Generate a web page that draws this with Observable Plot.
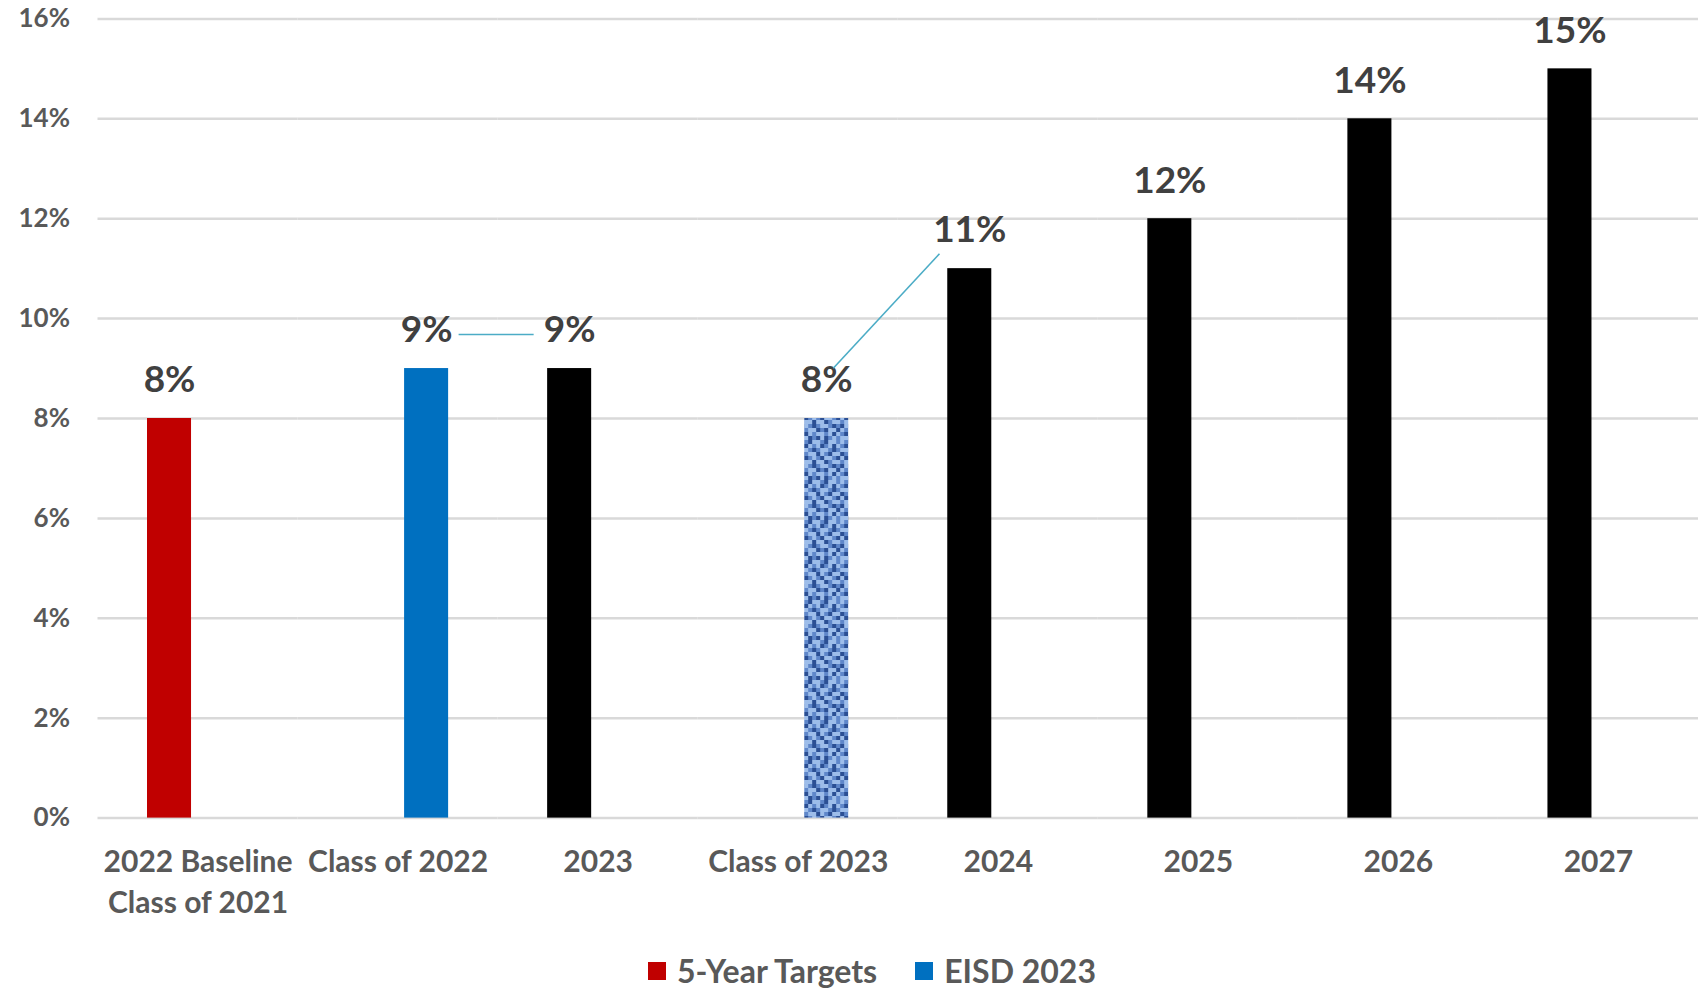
<!DOCTYPE html>
<html>
<head>
<meta charset="utf-8">
<script src="https://cdn.jsdelivr.net/npm/d3@7"></script>
<script src="https://cdn.jsdelivr.net/npm/@observablehq/plot@0.6"></script>
<style>
  html, body { margin: 0; padding: 0; background: #ffffff; }
  body { width: 1698px; height: 992px; overflow: hidden; font-family: Lato, "Noto Sans", sans-serif; }
  #legend { display: flex; justify-content: center; align-items: center; padding-left: 46px; height: 46px; margin-top: 8px;
            font-family: Lato, sans-serif; font-weight: bold; font-size: 32px; line-height: 40px; color: #595959; }
  .item { display: flex; align-items: center; margin: 0 19px; }
  .sw { width: 18px; height: 18px; margin-right: 11px; }
</style>
</head>
<body>
<div id="chart"></div>
<div id="legend"></div>
<script>
// ---- data ----
const categories = ["2022 Baseline\nClass of 2021", "Class of 2022", "2023", "Class of 2023", "2024", "2025", "2026", "2027"];
const series = ["5-Year Targets", "EISD 2023"];
const targetValues = [8, null, 9, null, 11, 12, 14, 15];
const eisdValues = [null, 9, null, 8, null, null, null, null];
const yTicks = [0, 2, 4, 6, 8, 10, 12, 14, 16];
const leaderFrom = ["Class of 2022", "Class of 2023"];
const leaderTo = ["2023", "2024"];

// ---- build tables ----
const rows = [];
categories.forEach((c, i) => {
  if (targetValues[i] != null) rows.push({cat: c, series: series[0], value: targetValues[i]});
  if (eisdValues[i] != null) rows.push({cat: c, series: series[1], value: eisdValues[i]});
});
const leaders = leaderFrom.map((f, k) => ({
  fromCat: f, toCat: leaderTo[k],
  fromSeries: series[1], toSeries: series[0],
  fromValue: eisdValues[categories.indexOf(f)],
  toValue: targetValues[categories.indexOf(leaderTo[k])]
}));

const RED = "#C00000", BLUE = "#0070C0", BLACK = "#000000";
function barFill(d) {
  if (d.series === series[1]) return d.cat === "Class of 2023" ? "url(#denim)" : BLUE;
  return d.cat === categories[0] ? RED : BLACK;
}

const LABEL_LIFT = 34, INSET = 30;

const chart = Plot.plot({
  width: 1698,
  height: 940,
  marginLeft: 97.5,
  marginRight: 0,
  marginTop: 18.4,
  marginBottom: 122.4,
  style: {fontFamily: "Lato, sans-serif", background: "#ffffff", overflow: "visible"},
  fx: {domain: categories, padding: 0, label: null, round: false},
  x: {domain: series, paddingInner: 0.228, paddingOuter: 0.868, axis: null, round: false},
  y: {domain: [0, 16], label: null},
  color: {type: "identity"},
  marks: [
    Plot.gridY(yTicks, {stroke: "#D9D9D9", strokeOpacity: 1, strokeWidth: 2.5}),
    Plot.axisY(yTicks, {tickSize: 0, tickPadding: 28, tickFormat: d => d + "%", fontSize: 26, fontWeight: "bold", fill: "#595959", label: null}),
    Plot.axisFx({anchor: "bottom", tickSize: 0, tickPadding: 25, fontSize: 30, fontWeight: "bold", fill: "#595959", lineHeight: 1.37, label: null}),
    Plot.barY(rows, {fx: "cat", x: "series", y: "value", fill: barFill}),
    Plot.text(rows, {fx: "cat", x: "series", y: "value", text: d => d.value + "%", dy: -38, fontSize: 37, fontWeight: "bold", fill: "#404040"}),
    Plot.link(leaders, {
      fx: "fromCat", x1: "fromSeries", x2: "toSeries", y1: "fromValue", y2: "toValue",
      stroke: "#4BACC6", strokeWidth: 1.6,
      render(index, scales, values, dimensions, context, next) {
        const n = leaders.length;
        const X1 = new Float64Array(n), X2 = new Float64Array(n), Y1 = new Float64Array(n), Y2 = new Float64Array(n);
        const facetW = (dimensions.width - dimensions.marginLeft - dimensions.marginRight) / categories.length;
        for (const i of index) {
          const d = leaders[i];
          const shift = scales.fx
            ? scales.fx(d.toCat) - scales.fx(d.fromCat)
            : (categories.indexOf(d.toCat) - categories.indexOf(d.fromCat)) * facetW;
          const x1 = values.x1[i], y1 = values.y1[i] - LABEL_LIFT;
          const x2 = values.x2[i] + shift, y2 = values.y2[i] - LABEL_LIFT;
          const dx = x2 - x1, dy = y2 - y1, L = Math.hypot(dx, dy);
          const ins = Math.abs(dy) > 1 ? INSET * 0.75 : INSET + 2;
          X1[i] = x1 + dx / L * ins - (Math.abs(dy) > 1 ? 9 : 0); Y1[i] = y1 + dy / L * ins;
          X2[i] = x2 - dx / L * (ins + 4) - (Math.abs(dy) > 1 ? 12 : 0); Y2[i] = y2 - dy / L * (ins + 4);
        }
        return next(index, scales, {...values, x1: X1, y1: Y1, x2: X2, y2: Y2}, dimensions, context);
      }
    })
  ]
});

// denim-like texture for the Class of 2023 bar
const tile = [
  ".o#..o#..o",
  "o#.o.#o.#.",
  "..o#o..o#o",
  "#o..#.o#..",
  ".#o.o#..o#",
  "o..#..#o..",
  "#.o#o..o#o",
  ".o..#o#..#",
  "o#.o..o.#.",
  "..#o#.#o.o"
];
const tone = {".": "#9DBDEA", "o": "#5F87CA", "#": "#2B4F94"};
const cell = 4;
const defs = d3.select(chart).insert("defs", ":first-child");
const pat = defs.append("pattern").attr("id", "denim").attr("patternUnits", "userSpaceOnUse")
  .attr("width", cell * 10).attr("height", cell * 10);
tile.forEach((row, r) => [...row].forEach((ch, c) => {
  pat.append("rect").attr("x", c * cell).attr("y", r * cell).attr("width", cell).attr("height", cell).attr("fill", tone[ch]);
}));

document.getElementById("chart").appendChild(chart);

// legend
const legend = d3.select("#legend");
series.forEach((s, i) => {
  const it = legend.append("div").attr("class", "item");
  it.append("div").attr("class", "sw").style("background", i === 0 ? RED : BLUE);
  it.append("span").text(s);
});
</script>
</body>
</html>
